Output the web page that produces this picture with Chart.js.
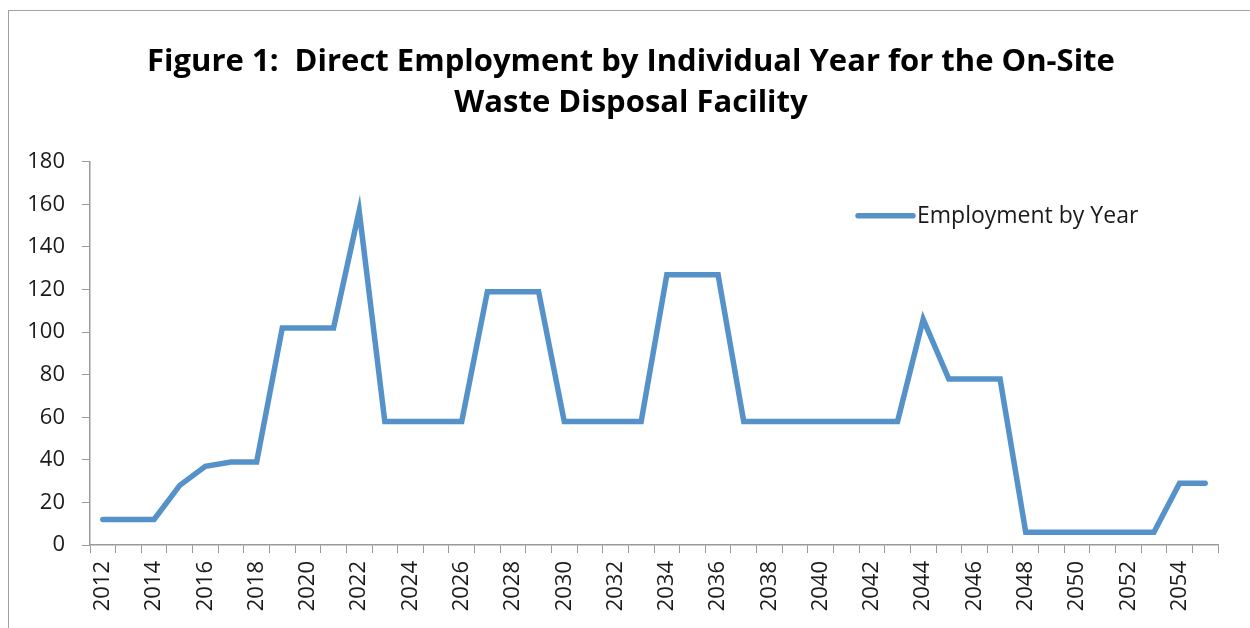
<!DOCTYPE html>
<html>
<head>
<meta charset="utf-8">
<script src="https://cdn.jsdelivr.net/npm/chart.js@4/dist/chart.umd.min.js"></script>
<style>
  html, body { margin: 0; padding: 0; background: #fff; overflow: hidden; }
  #wrap { position: relative; width: 1250px; height: 628px; }
  #frame { position: absolute; left: 8px; top: 10px; width: 1400px; height: 800px; border: 1.5px solid #a0a0a0; }
  canvas { position: absolute; left: 0; top: 0; }
</style>
</head>
<body>
<div id="wrap">
  <div id="frame"></div>
  <canvas id="chart" width="1250" height="628"></canvas>
</div>
<script>
// Years on the x axis
const years = [
  '2012', '2013', '2014', '2015', '2016', '2017', '2018', '2019', '2020', '2021',
  '2022', '2023', '2024', '2025', '2026', '2027', '2028', '2029', '2030', '2031',
  '2032', '2033', '2034', '2035', '2036', '2037', '2038', '2039', '2040', '2041',
  '2042', '2043', '2044', '2045', '2046', '2047', '2048', '2049', '2050', '2051',
  '2052', '2053', '2054', '2055'
];

// Direct employment per year
const employment = [
  12, 12, 12, 28, 37, 39, 39, 102, 102, 102,
  157, 58, 58, 58, 58, 119, 119, 119, 58, 58,
  58, 58, 127, 127, 127, 58, 58, 58, 58, 58,
  58, 58, 106, 78, 78, 78, 6, 6, 6, 6,
  6, 6, 29, 29
];

const yTicks = [0, 20, 40, 60, 80, 100, 120, 140, 160, 180];

const seriesLabel = 'Employment by Year';
const titleLines = [
  'Figure 1:  Direct Employment by Individual Year for the On-Site',
  'Waste Disposal Facility'
];

const lineColor = '#5592c9';
const axisColor = '#9a9a9a';
const fontFamily = '"Open Sans", Lato, sans-serif';

// the title in the original is centred a bit right of the canvas middle
const shiftTitle = {
  id: 'shiftTitle',
  afterLayout(chart) {
    if (chart.titleBlock) {
      chart.titleBlock.left = 44;
    }
  }
};

// legend drawn inside the plot area, like the Excel original
const insideLegend = {
  id: 'insideLegend',
  afterDraw(chart) {
    const ctx = chart.ctx;
    const area = chart.chartArea;
    const x0 = area.right - 360;
    const y = area.top + 54;
    ctx.save();
    ctx.strokeStyle = lineColor;
    ctx.lineWidth = 5.5;
    ctx.lineCap = 'round';
    ctx.beginPath();
    ctx.moveTo(x0, y);
    ctx.lineTo(x0 + 55, y);
    ctx.stroke();
    ctx.fillStyle = '#1a1a1a';
    ctx.font = '23px ' + fontFamily;
    ctx.textBaseline = 'middle';
    ctx.fillText(seriesLabel, x0 + 59, y + 1);
    ctx.restore();
  }
};

const chart = new Chart(document.getElementById('chart'), {
  type: 'line',
  data: {
    labels: years,
    datasets: [{
      label: seriesLabel,
      data: employment,
      borderColor: lineColor,
      backgroundColor: lineColor,
      borderWidth: 5.5,
      borderCapStyle: 'round',
      pointRadius: 0,
      tension: 0,
      fill: false
    }]
  },
  options: {
    responsive: false,
    animation: false,
    layout: { padding: { left: 0, right: 32, top: 0, bottom: 0 } },
    plugins: {
      legend: { display: false },
      tooltip: { enabled: false },
      title: {
        display: true,
        text: titleLines,
        color: '#000',
        font: { family: fontFamily, size: 31, weight: 'bold', lineHeight: 1.32 },
        padding: { top: 42, bottom: 38 }
      }
    },
    scales: {
      x: {
        offset: true,
        grid: {
          offset: true,
          drawOnChartArea: false,
          drawTicks: true,
          tickLength: 8,
          color: axisColor,
          lineWidth: 1
        },
        border: { display: true, color: axisColor, width: 1.5 },
        ticks: {
          autoSkip: false,
          minRotation: 90,
          maxRotation: 90,
          padding: 8,
          color: '#1a1a1a',
          font: { family: fontFamily, size: 22 },
          callback: (val, i) => (i % 2 === 0 ? years[i] : '')
        },
        afterFit: (scale) => { scale.height = 83; }
      },
      y: {
        min: 0,
        max: 180,
        afterBuildTicks: (scale) => { scale.ticks = yTicks.map(v => ({ value: v })); },
        grid: {
          drawOnChartArea: false,
          drawTicks: true,
          tickLength: 8,
          color: axisColor
        },
        border: { display: true, color: axisColor, width: 1.5 },
        ticks: {
          padding: 17,
          color: '#1a1a1a',
          font: { family: fontFamily, size: 22 }
        },
        afterFit: (scale) => { scale.width = 90; }
      }
    }
  },
  plugins: [shiftTitle, insideLegend]
});
</script>
</body>
</html>
